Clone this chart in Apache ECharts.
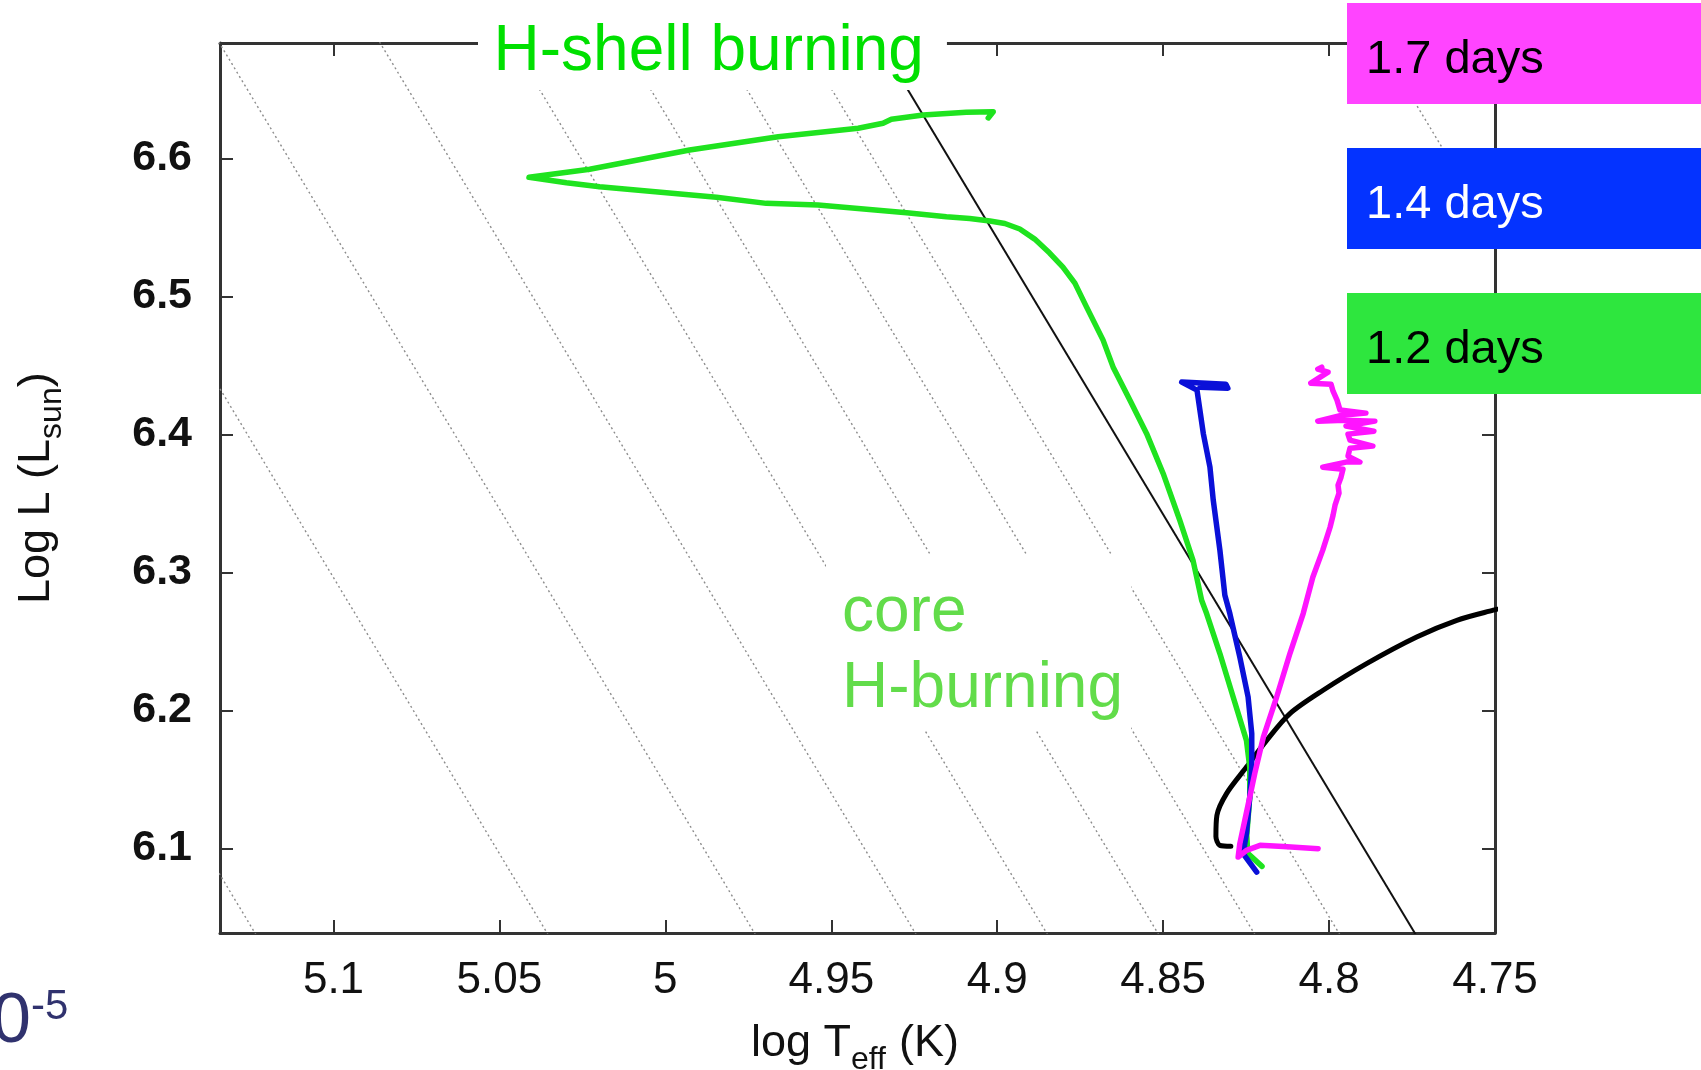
<!DOCTYPE html>
<html>
<head>
<meta charset="utf-8">
<script src="https://cdn.jsdelivr.net/npm/echarts@6/dist/echarts.min.js"></script>
<style>
html,body{margin:0;padding:0;background:#fff;}
#c{width:1701px;height:1070px;}
</style>
</head>
<body>
<div id="c"></div>
<script>
// ---- axis ranges & ticks ----
const xRange = [4.75, 5.1342];          // log Teff (axis inverted)
const yRange = [6.0387, 6.6836];        // log L
const xTicks = [4.75, 4.8, 4.85, 4.9, 4.95, 5, 5.05, 5.1];
const yTicks = [6.1, 6.2, 6.3, 6.4, 6.5, 6.6];

// ---- constant-radius lines (R/Rsun), logTeff at logL = 6.7 and 6.0 ----
const radiusLabels  = [2, 3, 4, 5, 6, 7, 8, 9, 20];
const radiusTopT    = [5.28898, 5.20095, 5.13848, 5.09003, 5.05043, 5.01695, 4.98795, 4.96238, 4.78898];
const radiusBottomT = [5.11398, 5.02595, 4.96348, 4.91503, 4.87543, 4.84195, 4.81295, 4.78738, 4.61398];
const radiusEndL    = [6.7, 6.0];
const solidRadiusT  = [4.9395, 4.7645];   // R = 10 Rsun, solid line

// ---- thick black curve ----
const blackCurve = [
  [4.8296, 6.1015], [4.8329, 6.1022], [4.8341, 6.1087], [4.8338, 6.1239], [4.8309, 6.1397],
  [4.8249, 6.1589], [4.8188, 6.1783], [4.8118, 6.1977], [4.8018, 6.2146], [4.7887, 6.2339],
  [4.7736, 6.2532], [4.7615, 6.2653], [4.7505, 6.2726], [4.7400, 6.2790]
];

// ---- 1.2 days track (green) ----
const track12 = [
  [4.8202, 6.0870], [4.8245, 6.0964], [4.8248, 6.1094], [4.8239, 6.1370], [4.8239, 6.1587],
  [4.8249, 6.1783], [4.8289, 6.2097], [4.8329, 6.2412], [4.8369, 6.2702], [4.8384, 6.2798],
  [4.8410, 6.3088], [4.8450, 6.3378], [4.8500, 6.3717], [4.8550, 6.4007], [4.8600, 6.4248],
  [4.8651, 6.4489], [4.8681, 6.4683], [4.8731, 6.4924], [4.8766, 6.5096], [4.8802, 6.5212],
  [4.8842, 6.5314], [4.8887, 6.5415], [4.8932, 6.5488], [4.8977, 6.5528], [4.9022, 6.5546],
  [4.9083, 6.5564], [4.9153, 6.5577], [4.9273, 6.5606], [4.9540, 6.5662], [4.9696, 6.5674],
  [4.9846, 6.5718], [5.0198, 6.5794], [5.0298, 6.5823], [5.0411, 6.5863], [5.0228, 6.5921],
  [4.9927, 6.6061], [4.9660, 6.6157], [4.9419, 6.6218], [4.9344, 6.6254], [4.9319, 6.6283],
  [4.9223, 6.6314], [4.9093, 6.6334], [4.9012, 6.6338], [4.9027, 6.6293]
];

// ---- 1.4 days track (blue) ----
const track14 = [
  [4.8218, 6.0828], [4.8259, 6.0962], [4.8249, 6.1107], [4.8239, 6.1372], [4.8233, 6.1589],
  [4.8233, 6.1832], [4.8244, 6.2097], [4.8269, 6.2387], [4.8299, 6.2702], [4.8314, 6.2834],
  [4.8329, 6.3161], [4.8349, 6.3523], [4.8359, 6.3764], [4.8379, 6.4007], [4.8398, 6.4321],
  [4.8444, 6.4379], [4.8311, 6.4364], [4.8305, 6.4335], [4.8389, 6.4342], [4.8317, 6.4350]
];

// ---- 1.7 days track (magenta) ----
const track17 = [
  [4.8022, 6.4487], [4.8034, 6.4473], [4.8003, 6.4451], [4.8055, 6.4371], [4.7994, 6.4364],
  [4.7988, 6.4313], [4.7976, 6.4248], [4.7967, 6.4176], [4.7889, 6.4154], [4.7961, 6.4139],
  [4.8034, 6.4096], [4.7955, 6.4103], [4.7862, 6.4096], [4.7949, 6.4060], [4.7865, 6.4023],
  [4.7943, 6.4002], [4.7937, 6.3958], [4.7868, 6.3915], [4.7937, 6.3900], [4.7943, 6.3842],
  [4.7907, 6.3799], [4.7949, 6.3799], [4.8019, 6.3762], [4.7958, 6.3748], [4.7964, 6.3690],
  [4.7973, 6.3632], [4.7970, 6.3574], [4.7982, 6.3487], [4.7988, 6.3414], [4.7997, 6.3327],
  [4.8019, 6.3161], [4.8049, 6.2965], [4.8078, 6.2702], [4.8118, 6.2412], [4.8158, 6.2097],
  [4.8198, 6.1807], [4.8224, 6.1542], [4.8239, 6.1372], [4.8254, 6.1203], [4.8269, 6.1034],
  [4.8274, 6.0937], [4.8249, 6.0986], [4.8208, 6.1022], [4.8138, 6.1014], [4.8033, 6.0998]
];

// ---- legend boxes ----
const legendLabels     = ['1.7 days', '1.4 days', '1.2 days'];
const legendColors     = ['#ff44ff', '#0433ff', '#2ee63e'];
const legendTextColors = ['#000000', '#ffffff', '#000000'];

// ---- texts ----
const shellText   = 'H-shell burning';
const coreText    = 'core\nH-burning';
const cornerBase  = '0';
const cornerExp   = '-5';
const xTitleParts = ['log T', 'eff', ' (K)'];
const yTitleParts = ['Log L (L', 'sun', ')'];

const FONT = 'Liberation Sans';
const chart = echarts.init(document.getElementById('c'), null, {renderer: 'canvas', width: 1701, height: 1070});

const fmt = v => String(+(+v).toFixed(2));

function xAxisDef(pos, showLabels) {
  return {
    type: 'value', position: pos, inverse: true,
    min: xRange[0], max: xRange[1], interval: 0.05,
    splitLine: {show: false},
    axisLine: {show: true, onZero: false, lineStyle: {color: '#333', width: 3}},
    axisTick: {show: true, inside: true, length: 13, customValues: xTicks, lineStyle: {color: '#333', width: 2}},
    axisLabel: {show: showLabels, customValues: xTicks, formatter: fmt, margin: 26,
      fontFamily: FONT, fontSize: 44, color: '#111'}
  };
}
function yAxisDef(pos, showLabels) {
  return {
    type: 'value', position: pos,
    min: yRange[0], max: yRange[1],
    splitLine: {show: false},
    axisLine: {show: true, onZero: false, lineStyle: {color: '#333', width: 3}},
    axisTick: {show: true, inside: true, length: 13, customValues: yTicks, lineStyle: {color: '#333', width: 2}},
    axisLabel: {show: showLabels, customValues: yTicks, formatter: fmt, margin: 28,
      fontFamily: FONT, fontSize: 43, fontWeight: 'bold', color: '#111'}
  };
}

const series = [];
radiusLabels.forEach((r, i) => {
  series.push({
    type: 'line', name: 'R=' + r, silent: true, showSymbol: false, symbol: 'none', z: 1,
    data: [[radiusTopT[i], radiusEndL[0]], [radiusBottomT[i], radiusEndL[1]]],
    lineStyle: {color: '#8c8c8c', width: 1.4, type: [2, 3]}
  });
});
series.push({
  type: 'line', name: 'R=10', silent: true, showSymbol: false, symbol: 'none', z: 2,
  data: [[solidRadiusT[0], radiusEndL[0]], [solidRadiusT[1], radiusEndL[1]]],
  lineStyle: {color: '#111', width: 2}
});
series.push({
  type: 'line', name: 'black', silent: true, showSymbol: false, symbol: 'none', z: 3, smooth: 0.3,
  data: blackCurve, lineStyle: {color: '#000', width: 5, cap: 'round', join: 'round'}
});
series.push({
  type: 'line', name: '1.2 days', silent: true, showSymbol: false, symbol: 'none', z: 4,
  data: track12, lineStyle: {color: '#1fe31f', width: 5.5, cap: 'round', join: 'round'}
});
series.push({
  type: 'line', name: '1.4 days', silent: true, showSymbol: false, symbol: 'none', z: 5,
  data: track14, lineStyle: {color: '#0a10d8', width: 5.5, cap: 'round', join: 'round'}
});
series.push({
  type: 'line', name: '1.7 days', silent: true, showSymbol: false, symbol: 'none', z: 6,
  data: track17, lineStyle: {color: '#ff14ff', width: 5.5, cap: 'round', join: 'round'}
});

const txt = (x, y, text, size, fill, extra) => Object.assign({
  type: 'text', x: x, y: y, z: 100, silent: true,
  style: {text: text, fontFamily: FONT, fontSize: size, fill: fill, align: 'left', verticalAlign: 'middle'}
}, extra || {});

const graphics = [
  {type: 'text', x: 478, y: -0.5, z: 100, silent: true,
   style: {text: shellText, fontFamily: FONT, fontSize: 64, lineHeight: 64, fill: '#00e000',
           backgroundColor: '#ffffff', padding: [20.5, 23, 6, 15.5], align: 'left', verticalAlign: 'top'}},
  {type: 'text', x: 826, y: 555, z: 100, silent: true,
   style: {text: coreText, fontFamily: FONT, fontSize: 64, lineHeight: 76, fill: '#62dc4a',
           backgroundColor: '#ffffff', padding: [20.3, 8, 3.5, 16], align: 'left', verticalAlign: 'top'}},
  txt(-8, 1023, cornerBase, 70, '#30326e'),
  txt(31, 1007, cornerExp, 42, '#30326e'),
  // x axis title
  txt(751, 1044, xTitleParts[0], 45, '#111'),
  txt(851, 1060, xTitleParts[1], 32, '#111'),
  txt(886.6, 1044, xTitleParts[2], 45, '#111'),
  // y axis title (rotated)
  txt(36.8, 604, yTitleParts[0], 45, '#111', {rotation: Math.PI / 2}),
  txt(52, 438.9, yTitleParts[1], 32, '#111', {rotation: Math.PI / 2}),
  txt(36.8, 387.3, yTitleParts[2], 45, '#111', {rotation: Math.PI / 2})
];
const boxTops = [3, 148, 293];
legendLabels.forEach((lab, i) => {
  graphics.push({type: 'rect', z: 100, silent: true,
    shape: {x: 1347, y: boxTops[i], width: 354, height: 101},
    style: {fill: legendColors[i]}});
  graphics.push(txt(1366, boxTops[i] + 57.5, lab, 47, legendTextColors[i], {z: 101}));
});

chart.setOption({
  animation: false,
  backgroundColor: '#ffffff',
  textStyle: {fontFamily: FONT},
  grid: {left: 220, right: 206, top: 43, bottom: 137, containLabel: false, outerBoundsMode: 'none', show: false},
  xAxis: [xAxisDef('bottom', true), xAxisDef('top', false)],
  yAxis: [yAxisDef('left', true), yAxisDef('right', false)],
  series: series,
  graphic: graphics
});
</script>
</body>
</html>
